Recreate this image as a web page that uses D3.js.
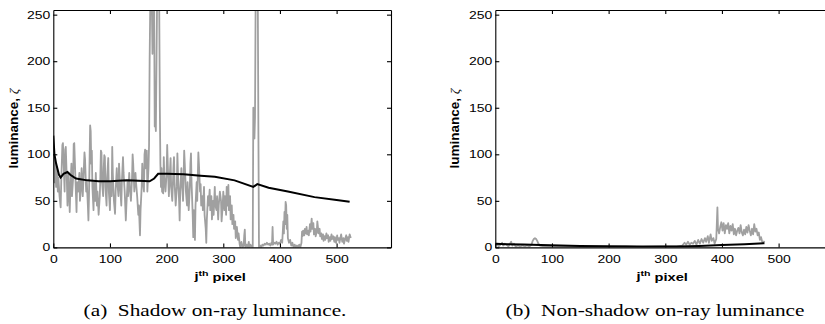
<!DOCTYPE html>
<html>
<head>
<meta charset="utf-8">
<script src="https://cdnjs.cloudflare.com/ajax/libs/d3/7.8.5/d3.min.js"></script>
<style>
  body { margin: 0; background: #fff; }
  svg { display: block; }
  .tick text { font-family: "Liberation Sans", Arial, sans-serif; font-size: 10.5px; fill: #000; }
  .domain, .tick line { stroke: #000; stroke-width: 1.1; }
</style>
</head>
<body>
<script>
// luminance along one ray

// (a) shadow ray: raw luminance (grey) and running mean (black)
var shadowX = [0,2,3,5,6,8,9,11,13,14,16,17,18,20,21,22,24,25,27,29,30,32,33,35,36,37,39,41,42,44,46,47,49,50,52,53,55,56,58,59,61,62,63,65,66,67,68,69,71,72,74,75,77,78,80,82,83,84,85,86,88,89,90,91,92,94,95,97,98,100,101,103,104,105,107,109,110,112,113,115,116,118,120,121,123,124,126,128,129,131,132,134,135,137,139,140,141,143,145,146,148,150,151,153,154,156,157,158,160,161,162,163,165,166,168,169,170,171,174,175,176,178,179,180,181,183,187,188,189,190,191,192,194,195,196,198,200,201,202,204,205,207,208,210,212,213,214,216,218,219,220,222,223,224,226,227,229,231,232,234,236,237,239,241,242,243,244,246,247,248,250,251,253,254,256,257,259,260,261,263,264,266,267,269,270,271,273,274,276,277,279,280,282,283,285,286,288,289,291,292,294,296,297,299,300,302,303,305,306,308,309,310,312,313,315,316,318,319,321,322,324,326,327,329,330,332,334,336,337,338,339,341,343,345,346,348,350,352,353,355,356,357,361,362,363,365,367,369,371,373,375,377,379,381,383,385,386,387,388,390,392,394,396,398,400,402,404,406,407,408,409,410,411,412,413,414,416,418,420,422,424,426,428,430,432,434,436,438,439,440,441,443,444,446,447,448,450,451,453,454,456,457,459,460,462,463,465,466,467,468,470,471,473,474,476,477,479,480,482,483,485,486,488,489,491,492,494,496,497,499,501,502,504,505,507,508,510,512,513,515,517,518,520,521,523,525];
var shadowLum = [100,70,95,65,85,60,75,55,43,70,110,112,95,60,105,108,70,45,80,38,60,90,55,75,111,112,75,38,70,60,80,50,65,85,55,70,102,95,60,72,45,29,55,131,125,90,104,65,40,70,50,80,45,60,35,55,75,104,102,70,55,85,99,97,65,45,75,96,60,40,70,55,108,80,50,36,60,85,70,55,90,65,45,70,97,80,60,29,45,70,55,80,65,50,75,100,90,60,80,70,55,35,45,13,40,65,90,75,60,100,105,85,104,60,85,110,200,255,255,208,255,255,130,135,125,255,255,150,90,65,85,60,58,97,75,60,80,110,90,55,70,96,65,50,85,97,70,45,65,101,80,50,29,60,85,70,50,104,90,60,45,70,40,65,90,101,70,35,11,40,8,45,70,50,102,90,60,68,45,55,40,65,35,20,5,30,55,45,62,40,55,30,50,35,65,45,40,55,30,45,60,50,28,45,60,40,55,35,65,45,67,40,55,30,45,25,35,20,28,10,22,8,15,3,0,6,0,2,13,19,0,3,0,6,0,3,1,0,150,117,140,255,255,122,0,2,0,3,2,4,3,5,3,4,2,5,3,22,3,5,4,6,3,5,4,8,5,28,15,38,25,49,45,20,35,10,5,8,2,5,0,3,0,2,0,3,0,5,17,12,18,13,20,15,22,14,18,13,25,17,31,20,26,14,20,12,17,28,22,15,20,12,15,9,14,7,12,8,15,10,13,6,11,7,14,9,12,6,11,5,13,8,10,5,11,14,6,10,4,9,13,7,11,6,14,10];
var shadowMeanX = [0,2,5,10,13,18,25,30,40,60,80,100,130,150,170,178,185,200,230,260,285,320,353,360,380,414,461,500,523];
var shadowMean = [120,100,90,78,75,79,81,78,74,72,71,71,72,71.5,71,74,79,79,78.5,77,76,72,65,68,64,60,54,51,49];

// (b) non-shadow ray
var litX = [0,3,6,9,12,14,17,20,23,26,28,30,33,36,40,44,48,52,56,60,64,66,68,70,72,74,76,79,85,95,110,130,160,200,230,260,290,320,330,334,337,340,343,346,349,352,355,358,361,364,367,370,372,375,377,380,382,385,387,390,392,393,395,397,399,401,403,405,407,409,411,413,415,417,419,421,423,425,427,429,431,433,435,437,439,441,443,445,447,449,451,453,455,457,459,461,463,465,467,469,471,473,475];
var litLum = [2,4,1,3,5,2,4,3,1,4,6,2,4,1,2,1,2,1,2,1,3,7,9,10,9,7,4,2,1,1.5,1,1,0.5,0.5,1,0.5,1,1,2,5,3,6,3,5,4,7,3,8,4,9,5,10,6,12,5,14,7,10,4,9,43,20,15,22,27,18,26,15,24,20,26,15,23,18,25,14,20,13,18,21,15,24,16,13,19,14,22,16,24,18,13,20,14,25,17,20,13,16,8,11,6,5,7];
var litMeanX = [0,20,50,80,150,250,320,360,400,440,475];
var litMean = [4,3.5,3,2.5,1.5,1,1,1.5,2.5,3.5,4.5];

var yTicks = [0, 50, 100, 150, 200, 250];
var xTicks = [0, 100, 200, 300, 400, 500];
var panels = [
    { id: "a", x: shadowX, y: shadowLum, mx: shadowMeanX, my: shadowMean,
      caption: "(a)\u00a0\u00a0Shadow on-ray luminance.", left: 53.3, ylab: 13.5, cap: 215 },
    { id: "b", x: litX, y: litLum, mx: litMeanX, my: litMean,
      caption: "(b)\u00a0\u00a0Non-shadow on-ray luminance", left: 495.3, ylab: 454, cap: 655 }
];

var plotTop = 10, plotBottom = 247.4, plotW = 337.7;
var stretch = 1.33; // the figure was squashed sideways

var svg = d3.select("body").append("svg")
    .attr("width", 825)
    .attr("height", 324);

panels.forEach(function(p) {
    var x = d3.scaleLinear().domain([0, 596]).range([p.left, p.left + plotW]);
    var y = d3.scaleLinear().domain([0, 255]).range([plotBottom, plotTop]);

    var g = svg.append("g");

    g.append("clipPath").attr("id", "clip-" + p.id)
        .append("rect")
        .attr("x", x(0)).attr("y", plotTop)
        .attr("width", plotW).attr("height", plotBottom - plotTop);

    var line = d3.line()
        .x(function(d) { return x(d[0]); })
        .y(function(d) { return y(d[1]); });

    var plot = g.append("g").attr("clip-path", "url(#clip-" + p.id + ")");

    plot.append("path")
        .datum(d3.zip(p.x, p.y))
        .attr("d", line)
        .attr("fill", "none")
        .attr("stroke", "#a0a0a0")
        .attr("stroke-width", 1.8)
        .attr("stroke-linejoin", "round");

    plot.append("path")
        .datum(d3.zip(p.mx, p.my))
        .attr("d", line)
        .attr("fill", "none")
        .attr("stroke", "#000")
        .attr("stroke-width", 2);

    // axes, MATLAB style: ticks pointing in, box all round
    var xb = g.append("g").attr("transform", "translate(0," + plotBottom + ")")
        .call(d3.axisBottom(x).tickValues(xTicks).tickSize(-4).tickSizeOuter(0).tickPadding(8));
    xb.selectAll(".tick text").attr("transform", "scale(" + stretch + ",1)");

    g.append("g").attr("transform", "translate(0," + plotTop + ")")
        .call(d3.axisTop(x).tickValues(xTicks.slice(1)).tickSize(-4).tickSizeOuter(0).tickFormat(""));

    var yl = g.append("g").attr("transform", "translate(" + x(0) + ",0)")
        .call(d3.axisLeft(y).tickValues(yTicks).tickSize(-4).tickSizeOuter(0).tickPadding(2.3));
    yl.selectAll(".tick text").attr("transform", "scale(" + stretch + ",1)");

    g.append("g").attr("transform", "translate(" + x(596) + ",0)")
        .call(d3.axisRight(y).tickValues(yTicks).tickSize(-4).tickSizeOuter(0).tickFormat(""));

    // axis titles
    var xt = g.append("text")
        .attr("transform", "translate(" + (x(0) + plotW / 2 - 2) + ",280) scale(" + stretch + ",1)")
        .attr("text-anchor", "middle")
        .style("font-family", "Liberation Sans, Arial, sans-serif")
        .style("font-size", "11px")
        .style("font-weight", "bold");
    xt.append("tspan").text("j");
    xt.append("tspan").attr("dy", "-0.45em").style("font-size", "8px").text("th");
    xt.append("tspan").attr("dy", "0.45em").text(" pixel");

    var yt = g.append("text")
        .attr("transform", "translate(" + p.ylab + "," + ((plotTop + plotBottom) / 2) + ") rotate(-90)")
        .attr("text-anchor", "middle")
        .attr("dy", "0.35em")
        .style("font-family", "Liberation Sans, Arial, sans-serif")
        .style("font-size", "13.5px")
        .style("font-weight", "bold");
    yt.append("tspan").text("luminance, ");
    yt.append("tspan")
        .style("font-family", "Liberation Serif, Times New Roman, serif")
        .style("font-style", "italic")
        .style("font-weight", "normal")
        .text("\u03b6");

    g.append("text")
        .attr("transform", "translate(" + p.cap + ",316) scale(" + stretch + ",1)")
        .attr("text-anchor", "middle")
        .style("font-family", "Liberation Serif, Times New Roman, serif")
        .style("font-size", "16px")
        .text(p.caption);
});
</script>
</body>
</html>
